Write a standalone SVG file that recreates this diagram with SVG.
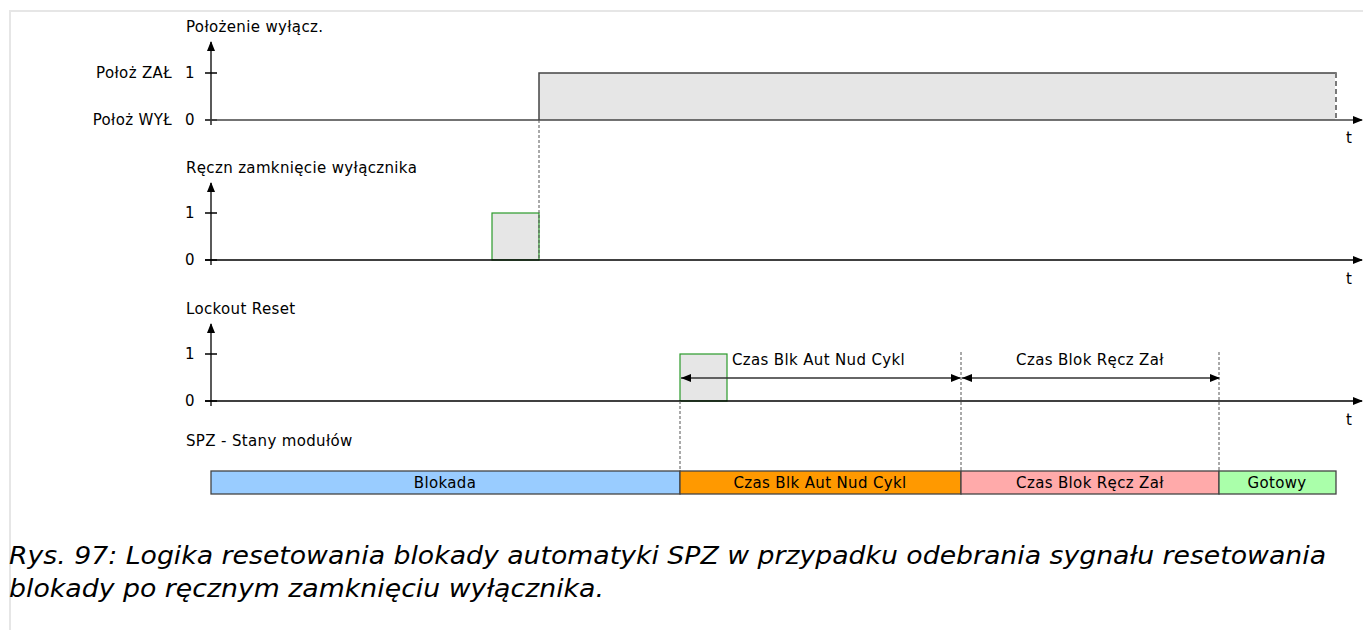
<svg xmlns="http://www.w3.org/2000/svg" width="1363" height="630" viewBox="0 0 1363 630">
<style>
text{font-family:"DejaVu Sans","Liberation Sans",sans-serif;font-size:15px;letter-spacing:0.35px;fill:#000}
.cap{font-size:24px;font-style:italic;letter-spacing:0}
.ax{stroke:#000;stroke-width:1.3;fill:none}
.sig{stroke:#444;stroke-width:1.5;fill:#e6e6e6}
.gsig{stroke:#2a9a2a;stroke-width:1.2;fill:#e6e6e6}
.dash{stroke:#555;stroke-width:1;stroke-dasharray:3,2;fill:none}
.dim{stroke:#333;stroke-width:1.3;fill:none}
.bar{stroke:#444;stroke-width:1.3}
.mid{text-anchor:middle}
.end{text-anchor:end}
</style>
<defs>
<marker id="ah" markerWidth="10" markerHeight="8" refX="9" refY="4" orient="auto" markerUnits="userSpaceOnUse">
<path d="M0,0 L10,4 L0,8 z" fill="#000"/>
</marker>
<marker id="as" markerWidth="10" markerHeight="8" refX="0" refY="4" orient="auto" markerUnits="userSpaceOnUse">
<path d="M10,0 L0,4 L10,8 z" fill="#000"/>
</marker>
</defs>
<rect width="1363" height="630" fill="#fff"/>
<path d="M10,630 V11 H1363" stroke="#e6e6e6" stroke-width="2" fill="none"/>

<g id="chart1">
<text x="186" y="32">Położenie wyłącz.</text>
<text class="end" x="172" y="78">Położ ZAŁ</text>
<text class="end" x="172" y="125">Położ WYŁ</text>
<text x="185" y="78">1</text>
<text x="185" y="125">0</text>
<path class="sig" d="M539,120 V73 H1336 V120"/>
<path d="M1336,73 V120" stroke="#fff" stroke-width="2"/>
<path d="M1336,73 V120" stroke="#333" stroke-width="1.3" stroke-dasharray="5,3"/>
<path class="ax" d="M211,125 V42" marker-end="url(#ah)"/>
<path class="ax" d="M205,73 H217 M205,120 H217"/>
<path d="M205,120 H1362" stroke="#444" stroke-width="1.5" marker-end="url(#ah)"/>
<text x="1346" y="143">t</text>
</g>

<g id="chart2">
<text x="186" y="173">Ręczn zamknięcie wyłącznika</text>
<text x="185" y="218">1</text>
<text x="185" y="265">0</text>
<rect class="gsig" x="492" y="213" width="47" height="47"/>
<path class="ax" d="M211,265 V183" marker-end="url(#ah)"/>
<path class="ax" d="M205,213 H217 M205,260 H217"/>
<path class="ax" d="M205,260 H1362" marker-end="url(#ah)"/>
<text x="1346" y="284">t</text>
</g>

<g id="chart3">
<text x="186" y="314">Lockout Reset</text>
<text x="185" y="359">1</text>
<text x="185" y="406">0</text>
<rect class="gsig" x="680" y="354" width="47" height="47"/>
<path class="ax" d="M211,406 V324" marker-end="url(#ah)"/>
<path class="ax" d="M205,354 H217 M205,401 H217"/>
<path class="ax" d="M205,401 H1362" marker-end="url(#ah)"/>
<text x="1346" y="425">t</text>
<text x="732" y="365">Czas Blk Aut Nud Cykl</text>
<text class="mid" x="1090" y="365">Czas Blok Ręcz Zał</text>
</g>

<g id="connectors">
<path class="dash" d="M539,120 V260"/>
<path class="dash" d="M680,401 V471"/>
<path class="dash" d="M961,352 V471"/>
<path class="dash" d="M1219,352 V471"/>
<path class="dim" d="M681,378 H960" marker-start="url(#as)" marker-end="url(#ah)"/>
<path class="dim" d="M962,378 H1219" marker-start="url(#as)" marker-end="url(#ah)"/>
</g>

<g id="states">
<text x="186" y="446">SPZ - Stany modułów</text>
<g id="s-blokada"><rect class="bar" x="211" y="471" width="469" height="23" fill="#99ccff"/><text class="mid" x="445" y="488">Blokada</text></g>
<g id="s-blk"><rect class="bar" x="680" y="471" width="281" height="23" fill="#ff9900"/><text class="mid" x="820" y="488">Czas Blk Aut Nud Cykl</text></g>
<g id="s-recz"><rect class="bar" x="961" y="471" width="258" height="23" fill="#ffaaaa"/><text class="mid" x="1090" y="488">Czas Blok Ręcz Zał</text></g>
<g id="s-gotowy"><rect class="bar" x="1219" y="471" width="117" height="23" fill="#aaffaa"/><text class="mid" x="1277" y="488">Gotowy</text></g>
</g>

<g id="caption">
<text class="cap" x="9" y="564" textLength="1317" lengthAdjust="spacingAndGlyphs">Rys. 97: Logika resetowania blokady automatyki SPZ w przypadku odebrania sygnału resetowania</text>
<text class="cap" x="9" y="597" textLength="595" lengthAdjust="spacingAndGlyphs">blokady po ręcznym zamknięciu wyłącznika.</text>
</g>
</svg>
